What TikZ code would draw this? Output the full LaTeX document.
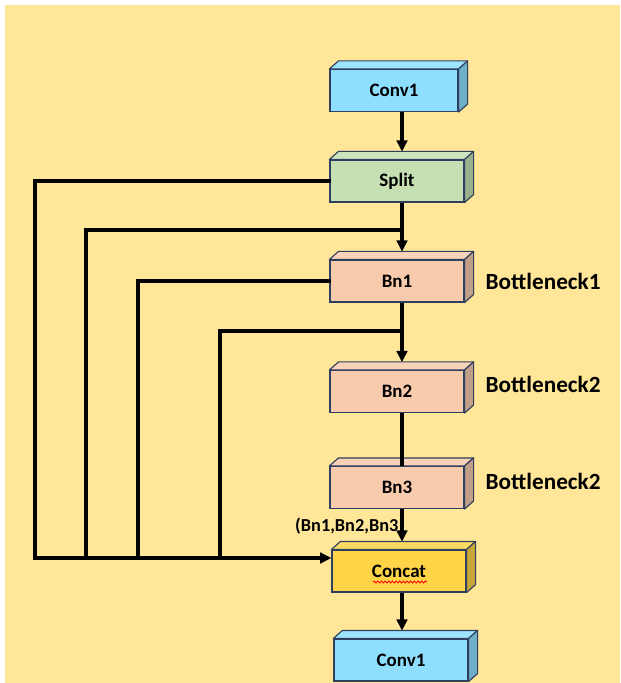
\documentclass[tikz,border=0pt]{standalone}
\usepackage{fontspec}
\setmainfont{Carlito}
\usetikzlibrary{arrows.meta, calc, positioning, decorations.pathmorphing}

\definecolor{bgyellow}{HTML}{FFE699}
\definecolor{convblue}{HTML}{8EDFFF}
\definecolor{splitgreen}{HTML}{C6E0B4}
\definecolor{bnpeach}{HTML}{F8CBAD}
\definecolor{catgold}{HTML}{FFD447}
\definecolor{edgenavy}{HTML}{2F3F5F}

\begin{document}
\begin{tikzpicture}[
            x=0.025cm, y=-0.025cm,
            >={Triangle[length=8pt,width=7.5pt]},
            line width=2.4pt,
            line cap=rect
        ]
        \tikzstyle{block}=[draw=edgenavy, line width=0.8pt, minimum width=3.35cm, minimum height=1.05cm, inner sep=0pt, font=\fontsize{13.5}{15}\selectfont\bfseries]
        \tikzstyle{face}=[draw=edgenavy, line width=0.8pt, line join=round]
        \tikzstyle{tag}=[anchor=west, inner sep=0pt, font=\fontsize{16.5}{19}\selectfont\bfseries]
        \tikzstyle{flow}=[->, line cap=butt, shorten >=5.5pt]

        \useasboundingbox (0,0) rectangle (620,683);
        \fill[bgyellow] (5,5) rectangle (620,683);

        \node[block, fill=convblue, minimum width=3.2cm] (conv1) at (394,90.5) {Conv1};
        \node[block, fill=splitgreen] (split) at (397,181) {Split};
        \node[block, fill=bnpeach] (bn1) at (397,281) {Bn1};
        \node[block, fill=bnpeach] (bn2) at (397,391.5) {Bn2};
        \node[block, fill=bnpeach] (bn3) at (397,487.5) {Bn3};
        \node[block, fill=catgold] (concat) at (399,571) {Concat};
        \node[block, fill=convblue] (conv1b) at (401,660) {Conv1};

        % top and side faces
        \foreach \n/\c in {conv1/convblue, split/splitgreen, bn1/bnpeach, bn2/bnpeach, bn3/bnpeach, concat/catgold, conv1b/convblue} {
            \draw[face, fill=\c!85!white] (\n.north west) -- ++(9,-8) -- ($(\n.north east)+(9,-8)$) -- (\n.north east) -- cycle;
            \draw[face, fill=\c!78!black] (\n.north east) -- ++(9,-8) -- ($(\n.south east)+(9,-8)$) -- (\n.south east) -- cycle;
        }

        \node[tag] (tag1) at (484,281) {Bottleneck1};
        \node[tag] (tag2) at (484,384) {Bottleneck2};
        \node[tag] (tag3) at (484,481) {Bottleneck2};
        \node[anchor=east, inner sep=0pt, font=\fontsize{13}{15}\selectfont\bfseries] (outs) at (400,526) {(Bn1,Bn2,Bn3};

        \draw[red, line width=0.6pt, line cap=butt, decorate, decoration={snake, amplitude=0.7pt, segment length=2.6pt}]
            ($(concat.center)+(-26,11)$) -- ($(concat.center)+(28,11)$);

        \coordinate (spine) at (402,0);
        \coordinate (j1) at (402,230);
        \coordinate (j2) at (402,331);
        \coordinate (d0) at (35,558);
        \coordinate (d1) at (86,558);
        \coordinate (d2) at (138,558);
        \coordinate (d3) at (220,558);

        % main path
        \draw[flow] (conv1.south -| spine) -- (split.north -| spine);
        \draw[flow] (split.south -| spine) -- (bn1.north -| spine);
        \draw[flow] (bn1.south -| spine) -- (bn2.north -| spine);
        \draw[line cap=butt] (bn2.south -| spine) -- (bn3.north -| spine);
        \draw[flow] (bn3.south -| spine) -- (concat.north -| spine);
        \draw[flow] (concat.south -| spine) -- (conv1b.north -| spine);

        % skip lines
        \draw (split.west) -| (d0);
        \draw (j1) -| (d1);
        \draw (bn1.west) -| (d2);
        \draw (j2) -| (d3);
        \draw[->] (d0) -- (d0 -| concat.west);
    \end{tikzpicture}
\end{document}
